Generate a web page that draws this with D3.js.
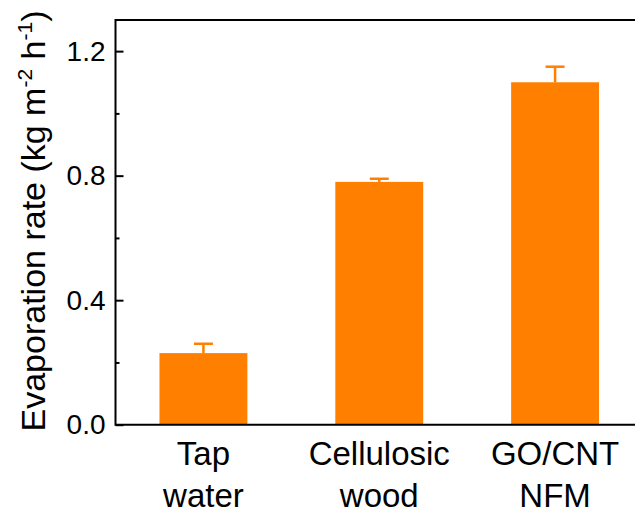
<!DOCTYPE html>
<html>
<head>
<meta charset="utf-8">
<script src="https://cdn.jsdelivr.net/npm/d3@7"></script>
<style>
  html, body { margin: 0; padding: 0; background: #fff; }
  svg { display: block; font-family: "Liberation Sans", Arial, sans-serif; }
</style>
</head>
<body>
<svg id="chart" width="635" height="518"></svg>
<script>
// Categories (two-line labels) and measured evaporation rates
const categories = ["Tap water", "Cellulosic wood", "GO/CNT NFM"];
const labelLines = [["Tap", "water"], ["Cellulosic", "wood"], ["GO/CNT", "NFM"]];
const rates = [0.23, 0.78, 1.10];
const errors = [0.03, 0.01, 0.05];
const majorTicks = [0.0, 0.4, 0.8, 1.2];
const minorTicks = [0.2, 0.6, 1.0];

const barColor = "#FF8000";
const svg = d3.select("#chart");

const plotLeft = 115.5, plotTop = 20, plotBottom = 424.7, plotRight = 643;

const x = d3.scaleBand()
  .domain(categories)
  .range([plotLeft, plotRight])
  .paddingInner(0.5)
  .paddingOuter(0.25);

const y = d3.scaleLinear()
  .domain([0, 1.3])
  .range([plotBottom, plotTop]);

// Bars
svg.append("g")
  .selectAll("rect")
  .data(categories)
  .join("rect")
  .attr("x", d => x(d))
  .attr("width", x.bandwidth())
  .attr("y", (d, i) => y(rates[i]))
  .attr("height", (d, i) => y(0) - y(rates[i]))
  .attr("fill", barColor);

// Upper error bars
const eb = svg.append("g")
  .attr("stroke", barColor)
  .attr("stroke-width", 2.5);
categories.forEach((c, i) => {
  const cx = x(c) + x.bandwidth() / 2;
  eb.append("line")
    .attr("x1", cx).attr("x2", cx)
    .attr("y1", y(rates[i])).attr("y2", y(rates[i] + errors[i]));
  eb.append("line")
    .attr("x1", cx - 9.5).attr("x2", cx + 9.5)
    .attr("y1", y(rates[i] + errors[i])).attr("y2", y(rates[i] + errors[i]));
});

// Left axis with inward ticks
const yAxis = svg.append("g")
  .attr("transform", `translate(${plotLeft},0)`)
  .call(d3.axisLeft(y)
    .tickValues(majorTicks)
    .tickFormat(d3.format(".1f"))
    .tickSizeInner(-8)
    .tickSizeOuter(0)
    .tickPadding(10));
yAxis.select(".domain").remove();
yAxis.selectAll(".tick line").attr("stroke", "#000").attr("stroke-width", 2);
yAxis.selectAll(".tick text")
  .attr("font-size", 28)
  .attr("font-family", "Liberation Sans, Arial, sans-serif")
  .attr("fill", "#000");

const yMinor = svg.append("g")
  .attr("transform", `translate(${plotLeft},0)`)
  .call(d3.axisLeft(y)
    .tickValues(minorTicks)
    .tickFormat("")
    .tickSizeInner(-4)
    .tickSizeOuter(0));
yMinor.select(".domain").remove();
yMinor.selectAll(".tick line").attr("stroke", "#000").attr("stroke-width", 2);

// Frame: top, left and bottom lines
svg.append("path")
  .attr("fill", "none")
  .attr("stroke", "#000")
  .attr("stroke-width", 2)
  .attr("d", `M635,${plotTop}H${plotLeft}V${plotBottom}H635`);

// Category labels
const xl = svg.append("g")
  .attr("font-size", 33)
  .attr("text-anchor", "middle")
  .attr("fill", "#000");
categories.forEach((c, i) => {
  const cx = x(c) + x.bandwidth() / 2;
  labelLines[i].forEach((line, j) => {
    xl.append("text")
      .attr("x", cx)
      .attr("y", 465 + j * 41.5)
      .text(line);
  });
});

// Y axis title with superscripts
const title = svg.append("text")
  .attr("transform", "translate(45,221) rotate(-90)")
  .attr("text-anchor", "middle")
  .attr("font-size", 34)
  .attr("fill", "#000");
title.append("tspan").text("Evaporation rate (kg m");
title.append("tspan").attr("font-size", 21).attr("dy", -13).text("-2");
title.append("tspan").attr("dy", 13).text(" h");
title.append("tspan").attr("font-size", 21).attr("dy", -13).text("-1");
title.append("tspan").attr("dy", 13).text(")");
</script>
</body>
</html>
